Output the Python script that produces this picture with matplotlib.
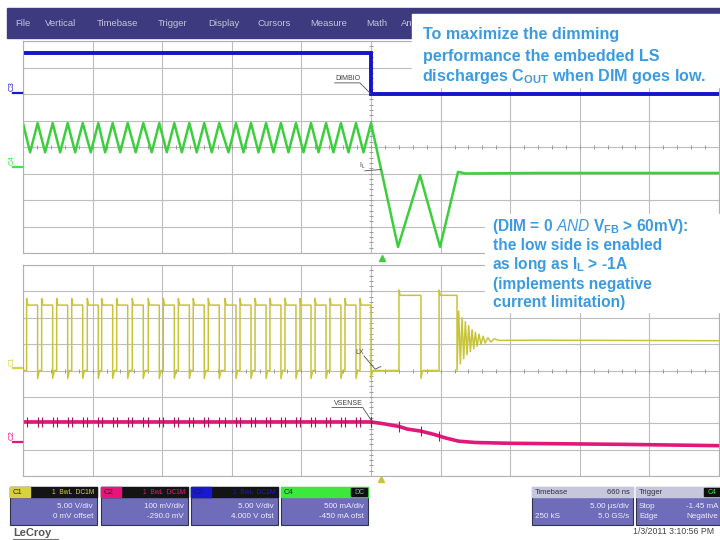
import numpy as np
import matplotlib.pyplot as plt
from matplotlib.patches import Rectangle

plt.rcParams['font.family'] = ['Liberation Sans', 'DejaVu Sans']
plt.rcParams['mathtext.fontset'] = 'custom'
plt.rcParams['mathtext.rm'] = 'Liberation Sans'
plt.rcParams['mathtext.it'] = 'Liberation Sans:italic'
plt.rcParams['mathtext.bf'] = 'Liberation Sans:bold'

############################################################
# Scope data (time in us, 5 us/div, trigger at centre;
# levels in screen divisions of each grid)
############################################################

# rising edges of the LX switching node before DIM goes low
sw_rise_us = [-24.74, -23.66, -22.58, -21.50, -20.38, -19.35, -18.27, -17.15,
              -16.00, -14.92, -13.84, -12.77, -11.69, -10.49, -9.41, -8.33,
              -7.26, -6.18, -5.10, -4.02, -2.95, -1.87, -0.79]
sw_on_us = 0.79

# C3 DIM (upper grid)
dim_t = [-25.0, 0.0, 0.0, 25.0]
dim_v = [7.55, 7.55, 6.0, 6.0]

# C4 inductor current IL (upper grid)
il_peak, il_valley = 4.9, 3.8
il_after_t = [1.94, 3.52, 4.96, 6.25, 6.8, 12.0, 25.0]
il_after_v = [0.23, 2.94, 0.23, 3.06, 3.0, 3.02, 3.02]

# C1 LX node (lower grid)
lx_high, lx_low = 6.48, 4.0
lx_after_t = [2.01, 2.01, 2.09, 3.59, 3.59, 3.70, 4.89, 4.89, 4.97, 6.18, 6.18,
              6.30, 6.42, 6.54, 6.66, 6.78, 6.90, 7.02, 7.14, 7.26, 7.38, 7.50,
              7.62, 7.76, 7.90, 8.05, 8.20, 8.40, 8.60, 8.85, 9.20, 12.0, 25.0]
lx_after_v = [4.0, 7.05, 6.85, 6.85, 3.7, 4.0, 4.0, 7.05, 6.85, 6.85, 4.0,
              6.25, 4.25, 6.0, 4.45, 5.85, 4.6, 5.7, 4.72, 5.55, 4.82, 5.45,
              4.92, 5.38, 4.98, 5.3, 5.04, 5.24, 5.08, 5.2, 5.14, 5.15, 5.13]

# C2 VSENSE (lower grid)
vs_level = 2.05
vs_after_t = [0.0, 0.8, 2.01, 2.6, 3.59, 4.5, 4.89, 5.3, 6.3, 7.5, 10.0, 18.0, 25.0]
vs_after_v = [2.05, 1.99, 1.88, 1.78, 1.7, 1.58, 1.52, 1.45, 1.32, 1.27, 1.24, 1.2, 1.15]
vs_spike_after_t = [0.0, 2.01, 3.59, 4.89]
vs_spike_after_v = [2.05, 1.88, 1.7, 1.52]

menu_items = ['File', 'Vertical', 'Timebase', 'Trigger', 'Display', 'Cursors',
              'Measure', 'Math', 'Analysis']
menu_x = [15, 45, 97, 158, 208, 258, 310, 366, 401]

ch_names = ['C1', 'C2', 'C3', 'C4']
ch_colors = ['#d8d040', '#e8147c', '#1818d0', '#3ce83c']
ch_scale = ['5.00 V/div', '100 mV/div', '5.00 V/div', '500 mA/div']
ch_offset = ['0 mV offset', '-290.0 mV', '4.000 V ofst', '-450 mA ofst']

############################################################
# Build the traces
############################################################

lx_t, lx_v = [-25.0], [lx_low]
il_t, il_v = [-25.0], [il_peak]
spk_t, spk_v = [], []
for tr in sw_rise_us:
    tf = tr + sw_on_us
    lx_t += [tr, tr, tr + 0.08, tf, tf, tf + 0.12]
    lx_v += [lx_low, lx_high + 0.25, lx_high, lx_high, lx_low - 0.3, lx_low]
    il_t += [tr + 0.25, tf]
    il_v += [il_valley, il_peak]
    spk_t += [tr, tf]
    spk_v += [vs_level, vs_level]
lx_t += lx_after_t
lx_v += lx_after_v
il_t += il_after_t
il_v += il_after_v
vs_t = [-25.0] + vs_after_t
vs_v = [vs_level] + vs_after_v
spk_t += vs_spike_after_t
spk_v += vs_spike_after_v

############################################################
# Figure
############################################################

fig = plt.figure(figsize=(7.2, 5.4), dpi=100)
fig.patch.set_facecolor('white')

ax1 = fig.add_axes([23 / 720, (540 - 253) / 540, 696 / 720, 212 / 540])
ax2 = fig.add_axes([23 / 720, (540 - 476) / 540, 696 / 720, 211 / 540])
for ax in (ax1, ax2):
    ax.set_xlim(-25, 25)
    ax.set_ylim(0, 8)
    ax.set_xticks(np.arange(-25, 26, 5))
    ax.set_yticks(np.arange(0, 9, 1))
    ax.tick_params(length=0, labelbottom=False, labelleft=False)
    ax.grid(True, color='#bdbdbd', lw=0.8)
    for s in ax.spines.values():
        s.set_color('#b0b0b0')
        s.set_linewidth(0.8)
    # centre cross tick marks
    ax.plot(np.arange(-25, 25.1, 1), [4] * 51, ls='none', marker='|', ms=3,
            color='#9a9a9a', mew=0.7)
    ax.plot([0] * 41, np.arange(0, 8.01, 0.2), ls='none', marker='_', ms=3,
            color='#9a9a9a', mew=0.7)

ax1.plot(dim_t, dim_v, color='#1414c8', lw=2.8, solid_joinstyle='miter')
ax1.plot(il_t, il_v, color='#3cce3c', lw=1.8)
ax2.plot(vs_t, vs_v, color='#e01878', lw=2.6)
ax2.vlines(spk_t, np.array(spk_v) - 0.2, np.array(spk_v) + 0.2,
           color='#a01858', lw=0.8)
ax2.plot(lx_t, lx_v, color='#c8c43a', lw=1.1)

# trace labels with leader lines
lab = dict(fontsize=5, color='#404040', ha='center', va='bottom')
ax1.text(-1.65, 6.45, 'DIMBIO', **lab)
ax1.plot([-2.6, -0.8, 0.0], [6.42, 6.42, 6.0], color='#505050', lw=0.6)
ax1.text(-0.6, 3.1, 'I$_\\mathregular{L}$', **lab)
ax1.plot([-0.45, 0.72], [3.1, 3.15], color='#505050', lw=0.6)
ax2.text(-0.8, 4.55, 'LX', **lab)
ax2.plot([-0.5, 0.3, 0.7], [4.55, 4.05, 4.15], color='#505050', lw=0.6)
ax2.text(-1.65, 2.62, 'VSENSE', **lab)
ax2.plot([-2.8, -0.6, 0.1], [2.6, 2.6, 2.05], color='#505050', lw=0.6)

############################################################
# Overlay: menu bar, annotations, info boxes (pixel coords)
############################################################

ov = fig.add_axes([0, 0, 1, 1])
ov.set_xlim(0, 720)
ov.set_ylim(540, 0)
ov.axis('off')
ov.patch.set_visible(False)

ov.add_patch(Rectangle((7, 8), 713, 30, color='#3d3a80', zorder=1))
for name, x in zip(menu_items, menu_x):
    ov.text(x, 23, name, fontsize=6.8, color='#c4c4dc', va='center', zorder=2)

blue_txt = '#3b9be0'
ov.add_patch(Rectangle((412, 14), 308, 73, color='white', zorder=3))
t1 = ['To maximize the dimming',
      'performance the embedded LS',
      r'discharges C$_\mathregular{OUT}$ when DIM goes low.']
for i, s in enumerate(t1):
    x = 422 if '$' in s else 423
    ov.text(x, 35 + 21 * i, s, fontsize=11.6, fontweight='bold', color=blue_txt,
            va='center', zorder=4)

ov.add_patch(Rectangle((485, 214), 235, 98, color='white', zorder=3))
t2 = [r'(DIM = 0 $\it{AND}$ V$_\mathregular{FB}$ > 60mV):',
      'the low side is enabled',
      r'as long as I$_\mathregular{L}$ > -1A',
      '(implements negative',
      'current limitation)']
t2_y = [227, 245, 264, 284, 303]
for s, y in zip(t2, t2_y):
    x = 492 if '$' in s else 493
    ov.text(x, y, s, fontsize=11.2, fontweight='bold', color=blue_txt,
            va='center', zorder=4)

# channel ground markers on the left
ch_mark_y = [368, 442, 93, 167]
for name, col, y in zip(ch_names, ch_colors, ch_mark_y):
    ov.text(12, y - 2, name, fontsize=5.5, color=col, rotation=90,
            ha='center', va='bottom', zorder=4)
    ov.plot([13, 22], [y, y], color=col, lw=1.6, zorder=4)

# trigger position markers
ov.plot([382], [258], marker='^', ms=5, color='#3cce3c', ls='none', zorder=4)
ov.plot([381], [479], marker='^', ms=5, color='#c8c43a', ls='none', zorder=4)

# channel info boxes
box_x = [10, 101, 191, 281]
body_col = '#6f6cba'
for name, col, x, sc, off in zip(ch_names, ch_colors, box_x, ch_scale, ch_offset):
    w = 87
    ov.add_patch(Rectangle((x, 487), w, 38, facecolor=body_col,
                           edgecolor='#303050', lw=0.8, zorder=3))
    if name == 'C4':
        ov.add_patch(Rectangle((x, 487), w, 10, color=col, zorder=4))
        ov.add_patch(Rectangle((x + w - 17, 488), 16, 8, color='#101010', zorder=5))
        ov.text(x + w - 9, 492, 'DC', fontsize=5, color=col, ha='center',
                va='center', zorder=6)
        ov.text(x + 3, 492, name, fontsize=5.5, color='#103010', va='center',
                zorder=6)
    else:
        ov.add_patch(Rectangle((x, 487), w, 10, color='#141414', zorder=4))
        ov.add_patch(Rectangle((x, 487), 20, 10, color=col, zorder=5))
        ov.text(x + 3, 492, name, fontsize=5.5, color='#202020', va='center',
                zorder=6)
        ov.text(x + w - 3, 492, '1  BwL  DC1M', fontsize=4.8, color=col,
                ha='right', va='center', zorder=6)
    ov.text(x + w - 4, 506, sc, fontsize=5.8, color='#eeeeff', ha='right',
            va='center', zorder=6)
    ov.text(x + w - 4, 517, off, fontsize=5.8, color='#eeeeff', ha='right',
            va='center', zorder=6)

# timebase and trigger boxes
ov.add_patch(Rectangle((532, 487), 101, 38, facecolor=body_col,
                       edgecolor='#303050', lw=0.8, zorder=3))
ov.add_patch(Rectangle((532, 487), 101, 10, color='#c6c6dc', zorder=4))
ov.text(535, 492, 'Timebase', fontsize=5.5, color='#303040', va='center', zorder=6)
ov.text(630, 492, '660 ns', fontsize=5.5, color='#303040', ha='right',
        va='center', zorder=6)
ov.text(629, 506, '5.00 \u00b5s/div', fontsize=5.8, color='#eeeeff', ha='right',
        va='center', zorder=6)
ov.text(535, 517, '250 kS', fontsize=5.8, color='#eeeeff', va='center', zorder=6)
ov.text(629, 517, '5.0 GS/s', fontsize=5.8, color='#eeeeff', ha='right',
        va='center', zorder=6)

ov.add_patch(Rectangle((636, 487), 84, 38, facecolor=body_col,
                       edgecolor='#303050', lw=0.8, zorder=3))
ov.add_patch(Rectangle((636, 487), 84, 10, color='#c6c6dc', zorder=4))
ov.add_patch(Rectangle((704, 488), 16, 8, color='#101010', zorder=5))
ov.text(639, 492, 'Trigger', fontsize=5.5, color='#303040', va='center', zorder=6)
ov.text(712, 492, 'C4', fontsize=5, color='#3ce83c', ha='center', va='center',
        zorder=6)
ov.text(639, 506, 'Stop', fontsize=5.8, color='#eeeeff', va='center', zorder=6)
ov.text(718, 506, '-1.45 mA', fontsize=5.8, color='#eeeeff', ha='right',
        va='center', zorder=6)
ov.text(639, 517, 'Edge', fontsize=5.8, color='#eeeeff', va='center', zorder=6)
ov.text(718, 517, 'Negative', fontsize=5.8, color='#eeeeff', ha='right',
        va='center', zorder=6)

ov.text(13, 533, 'LeCroy', fontsize=8, fontweight='bold', color='#555555',
        va='center', zorder=6)
ov.plot([13, 58], [539, 539], color='#777777', lw=0.8, zorder=6)
ov.text(714, 531, '1/3/2011 3:10:56 PM', fontsize=6.3, color='#444444',
        ha='right', va='center', zorder=6)

fig.savefig('out.png', dpi=100)
